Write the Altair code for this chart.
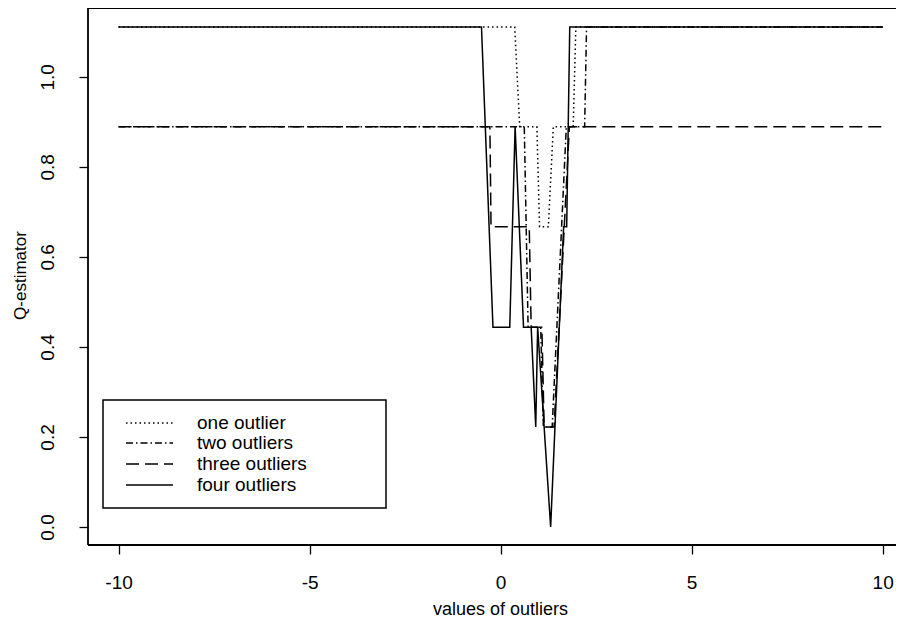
import altair as alt
import pandas as pd

# ---- data ----
x_limits = [-10.8, 10.35]
y_limits = [-0.04, 1.153]
x_ticks = [-10, -5, 0, 5, 10]
y_ticks = [0.0, 0.2, 0.4, 0.6, 0.8, 1.0]

series_names = ["one outlier", "two outliers", "three outliers", "four outliers"]

one_x = [-10, 0.37, 0.50, 0.95, 1.02, 1.25, 1.38, 1.90, 1.97, 10]
one_y = [1.111, 1.111, 0.889, 0.889, 0.667, 0.667, 0.889, 0.889, 1.111, 1.111]

two_x = [-10, 0.62, 0.72, 1.05, 1.12, 1.35, 1.72, 2.20, 2.25, 10]
two_y = [0.889, 0.889, 0.444, 0.444, 0.222, 0.222, 0.889, 0.889, 1.111, 1.111]

three_x = [-10, -0.28, -0.25, 0.75, 0.80, 1.08, 1.14, 1.40, 1.80, 10]
three_y = [0.889, 0.889, 0.667, 0.667, 0.444, 0.444, 0.222, 0.222, 0.889, 0.889]

four_x = [-10, -0.50, -0.20, 0.24, 0.38, 0.60, 0.80, 0.92, 0.97, 1.31, 1.65, 1.73, 1.81, 10]
four_y = [1.111, 1.111, 0.444, 0.444, 0.889, 0.444, 0.444, 0.222, 0.444, 0.0, 0.667, 0.667, 1.111, 1.111]

# ---- styling ----
W, H = 808, 537
FONT = "Liberation Sans"
FS = 19
dashes = [[1.5, 3], [7, 3, 1.5, 3], [13, 6], None]
series_x = [one_x, two_x, three_x, four_x]
series_y = [one_y, two_y, three_y, four_y]

x_enc = alt.X("x:Q", scale=alt.Scale(domain=x_limits, nice=False, zero=False),
              axis=alt.Axis(values=x_ticks, title="values of outliers", domain=False, grid=False,
                            tickSize=9, tickColor="black", tickWidth=1.3,
                            labelExpr="'' + datum.value", labelFont=FONT, labelFontSize=FS,
                            labelColor="black", labelPadding=28, labelBaseline="middle",
                            titleFont=FONT, titleFontSize=18, titleFontWeight="normal",
                            titleColor="black", titleX=412, titleY=64, titleBaseline="middle",
                            titleAlign="center"))
y_enc = alt.Y("y:Q", scale=alt.Scale(domain=y_limits, nice=False, zero=False),
              axis=alt.Axis(values=y_ticks, format=".1f", title="Q-estimator", domain=False,
                            grid=False, tickSize=9, tickColor="black", tickWidth=1.3,
                            labelAngle=270, labelAlign="center", labelBaseline="bottom",
                            labelPadding=22, labelFont=FONT, labelFontSize=FS, labelColor="black",
                            titleFont=FONT, titleFontSize=17, titleFontWeight="normal",
                            titleColor="black", titleAngle=270, titleX=-68, titleY=267,
                            titleAlign="center", titleBaseline="middle"))

layers = []
for name, xs, ys, dash in zip(series_names, series_x, series_y, dashes):
    df = pd.DataFrame({"x": xs, "y": ys, "series": name})
    kw = dict(color="black", strokeWidth=1.5)
    if dash is not None:
        kw["strokeDash"] = dash
    layers.append(alt.Chart(df).mark_line(**kw).encode(x=x_enc, y=y_enc))

one = pd.DataFrame({"a": [0]})
frame_kw = dict(color="black", strokeWidth=1.8)
layers.append(alt.Chart(one).mark_rule(**frame_kw).encode(x=alt.value(0), x2=alt.value(W), y=alt.value(0)))
layers.append(alt.Chart(one).mark_rule(**frame_kw).encode(x=alt.value(0), x2=alt.value(W), y=alt.value(H)))
layers.append(alt.Chart(one).mark_rule(**frame_kw).encode(x=alt.value(0), y=alt.value(0), y2=alt.value(H)))

# legend box (drawn inside the plot, like R's legend())
layers.append(alt.Chart(one).mark_rect(fill="white", stroke="black", strokeWidth=1.5).encode(
    x=alt.value(15), x2=alt.value(298), y=alt.value(392), y2=alt.value(500)))
row_y = [415, 435, 456, 477]
for name, dash, ry in zip(series_names, dashes, row_y):
    kw = dict(color="black", strokeWidth=1.5)
    if dash is not None:
        kw["strokeDash"] = dash
    layers.append(alt.Chart(one).mark_rule(**kw).encode(x=alt.value(38), x2=alt.value(85), y=alt.value(ry)))
    layers.append(alt.Chart(one).mark_text(align="left", baseline="middle", font=FONT, fontSize=FS,
                                           color="black").encode(
        x=alt.value(109), y=alt.value(ry), text=alt.value(name)))

chart = alt.layer(*layers).properties(
    width=W, height=H,
    autosize=alt.AutoSizeParams(type="none"),
    padding={"left": 80, "top": 0, "right": 0, "bottom": 75},
).configure_view(strokeWidth=0).configure(background="white")

chart.save("out.html", embed_options={"renderer": "svg", "actions": False})
